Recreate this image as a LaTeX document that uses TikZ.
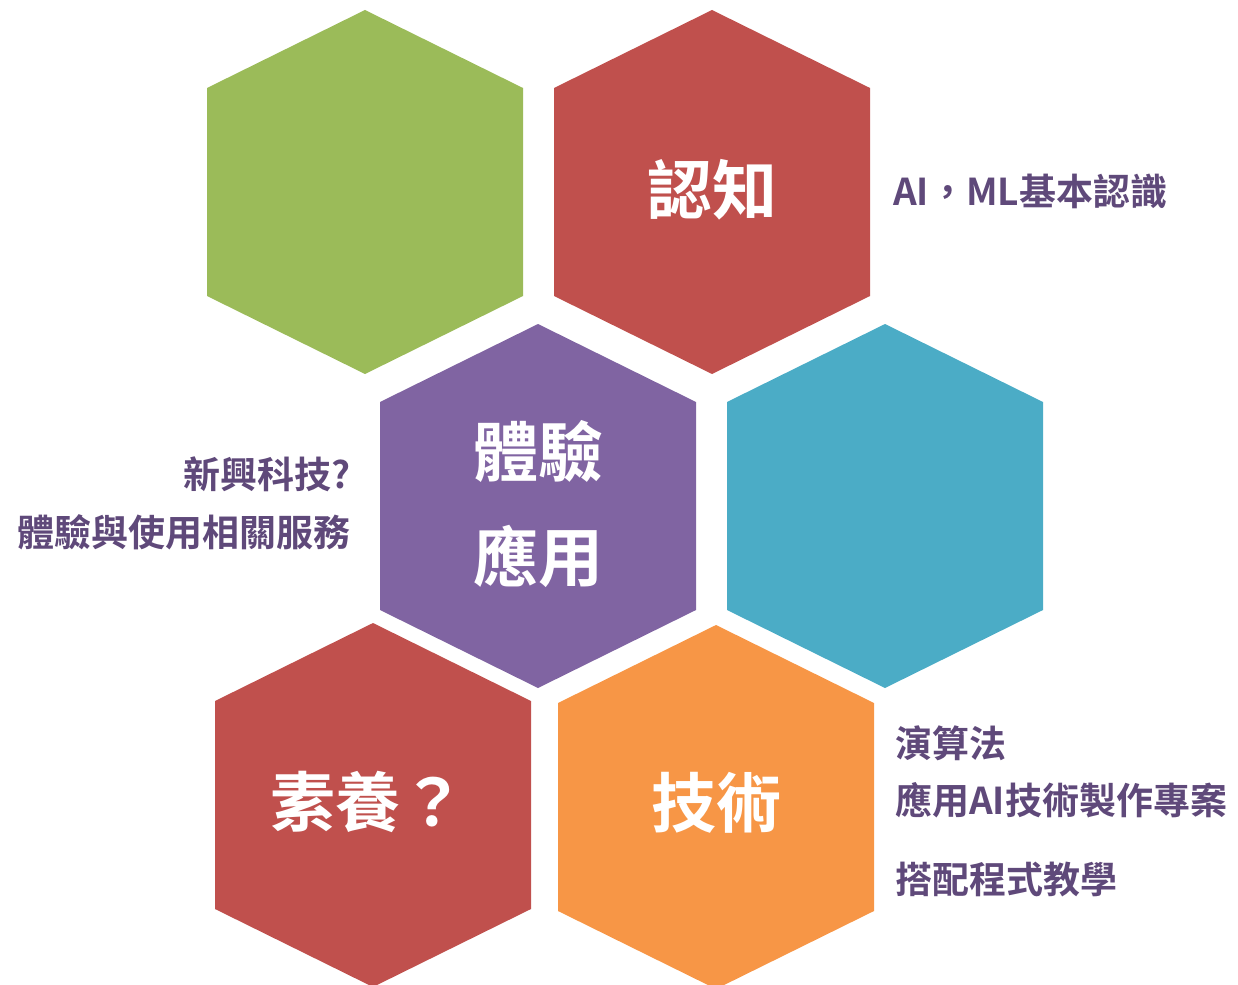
\documentclass[tikz,border=0pt]{standalone}
\usepackage{fontspec}
\newfontfamily\cjk{Noto Sans CJK TC}[BoldFont={Noto Sans CJK TC Bold}]
\definecolor{hgreen}{HTML}{9BBB59}
\definecolor{hred}{HTML}{C0504D}
\definecolor{hpurple}{HTML}{8064A2}
\definecolor{hcyan}{HTML}{4BACC6}
\definecolor{horange}{HTML}{F79646}
\definecolor{tpurple}{HTML}{5F497A}
\begin{document}
\begin{tikzpicture}[x=1pt,y=-1pt,
  hexa/.style={fill=#1,draw=none},
  bigtxt/.style={text=white,font=\cjk\bfseries\fontsize{65}{70}\selectfont,inner sep=0pt},
  sidetxt/.style={text=tpurple,font=\cjk\bfseries\fontsize{37}{42}\selectfont,inner sep=0pt}]
\useasboundingbox (0,0) rectangle (1238,984);
\clip (0,0) rectangle (1238,984);
% hexagons: center (cx,cy), half width 158, top offset 182, side offset 104
\newcommand{\hexat}[3]{\fill[#3] (#1,#2-182) -- (#1+158,#2-104) -- (#1+158,#2+104) -- (#1,#2+182) -- (#1-158,#2+104) -- (#1-158,#2-104) -- cycle;}
\hexat{365}{192}{hgreen}
\hexat{712}{192}{hred}
\hexat{538}{506}{hpurple}
\hexat{885}{506}{hcyan}
\hexat{373}{805}{hred}
\hexat{716}{807}{horange}
\node[bigtxt] (rz) at (712,190) {認知};
\node[bigtxt] (ty) at (538,451) {體驗};
\node[bigtxt] (yy) at (538,556) {應用};
\node[bigtxt] (sy) at (368,802) {素養？};
\node[bigtxt] (js) at (716,803) {技術};
\node[sidetxt,anchor=west] (ai) at (893,191) {AI，ML基本認識};
\node[sidetxt,anchor=east] (xx) at (351,474) {新興科技?};
\node[sidetxt,anchor=east] (tyu) at (351,532) {體驗與使用相關服務};
\node[sidetxt,anchor=west] (ysf) at (895,743) {演算法};
\node[sidetxt,anchor=west] (yyai) at (895,800) {應用AI技術製作專案};
\node[sidetxt,anchor=west] (dp) at (895,880) {搭配程式教學};
\end{tikzpicture}
\end{document}
